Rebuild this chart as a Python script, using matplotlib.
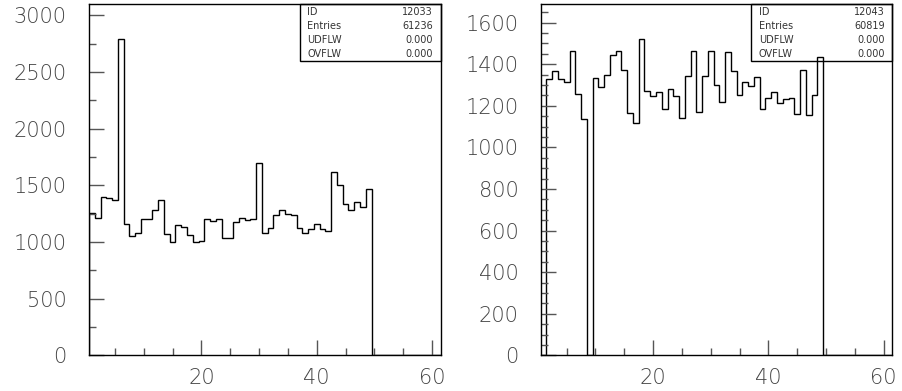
import numpy as np
import matplotlib
matplotlib.use("Agg")
import matplotlib.pyplot as plt
from matplotlib.patches import Rectangle
from matplotlib.ticker import MultipleLocator

# bin contents, bins of width 1 centred on 1..49 (range 0.5 - 61.5, 61 bins)
counts_12033 = [1260, 1210, 1401, 1387, 1372, 2790, 1157, 1054, 1077, 1204,
                1204, 1284, 1372, 1069, 1004, 1148, 1136, 1063, 1001, 1013,
                1204, 1181, 1204, 1033, 1033, 1172, 1210, 1195, 1204, 1696,
                1083, 1122, 1240, 1284, 1245, 1234, 1122, 1077, 1113, 1157,
                1113, 1098, 1616, 1501, 1334, 1284, 1351, 1307, 1466]
counts_12043 = [0, 1327, 1367, 1330, 1314, 1464, 1258, 1138, 0, 1332,
                1289, 1350, 1447, 1464, 1371, 1167, 1119, 1520, 1270, 1246,
                1265, 1185, 1281, 1246, 1141, 1345, 1464, 1172, 1342, 1464,
                1300, 1220, 1457, 1366, 1250, 1314, 1297, 1337, 1183, 1239,
                1265, 1213, 1234, 1237, 1159, 1372, 1156, 1250, 1435]

stats_labels = ["ID", "Entries", "UDFLW", "OVFLW"]
stats_12033 = ["12033", "61236", "0.000", "0.000"]
stats_12043 = ["12043", "60819", "0.000", "0.000"]

n_bins = 61
x_lo, x_hi = 0.5, 61.5
edges = np.linspace(x_lo, x_hi, n_bins + 1)

W, H = 903, 391
fig = plt.figure(figsize=(W / 100, H / 100), dpi=100)
plt.rcParams["font.family"] = ["DejaVu Sans"]

font = dict(family=["DejaVu Sans"], color="#333333")


def draw_hist(left_px, right_px, counts, ymax, major, minor, stats):
    ax = fig.add_axes([left_px / W, 1 - 355.3 / H,
                       (right_px - left_px) / W, (355.3 - 4) / H])
    vals = np.zeros(n_bins)
    vals[:len(counts)] = counts
    ax.stairs(vals, edges, baseline=0, color="black", lw=1.0)
    ax.set_xlim(x_lo, x_hi)
    ax.set_ylim(0, ymax)

    ax.xaxis.set_major_locator(MultipleLocator(20))
    ax.xaxis.set_minor_locator(MultipleLocator(5))
    ax.yaxis.set_major_locator(MultipleLocator(major))
    ax.yaxis.set_minor_locator(MultipleLocator(minor))
    ax.tick_params(which="both", direction="in", top=False, right=False,
                   color="#555555", width=1.0, labelsize=15,
                   labelcolor="#444444")
    ax.tick_params(which="major", length=11)
    ax.tick_params(which="minor", length=5)
    ax.tick_params(axis="x", which="major", pad=9)
    ax.tick_params(axis="y", which="major", pad=16)
    for lab in ax.get_xticklabels() + ax.get_yticklabels():
        lab.set_fontweight("light")
    for sp in ax.spines.values():
        sp.set_linewidth(1.0)
        sp.set_color("black")

    # statistics box
    ax.add_patch(Rectangle((0.599, 0.838), 0.401, 0.162, transform=ax.transAxes,
                           fill=False, lw=1.0, ec="black", clip_on=False))
    for i, (k, v) in enumerate(zip(stats_labels, stats)):
        yy = 0.977 - i * 0.0395
        ax.text(0.62, yy, k, transform=ax.transAxes, fontsize=7,
                va="center", ha="left", **font)
        ax.text(0.978, yy, v, transform=ax.transAxes, fontsize=7,
                va="center", ha="right", **font)
    return ax


draw_hist(89, 440.7, counts_12033, 3100, 500, 250, stats_12033)
draw_hist(540.7, 892.3, counts_12043, 1690, 200, 50, stats_12043)

fig.savefig("out.png", dpi=100)
